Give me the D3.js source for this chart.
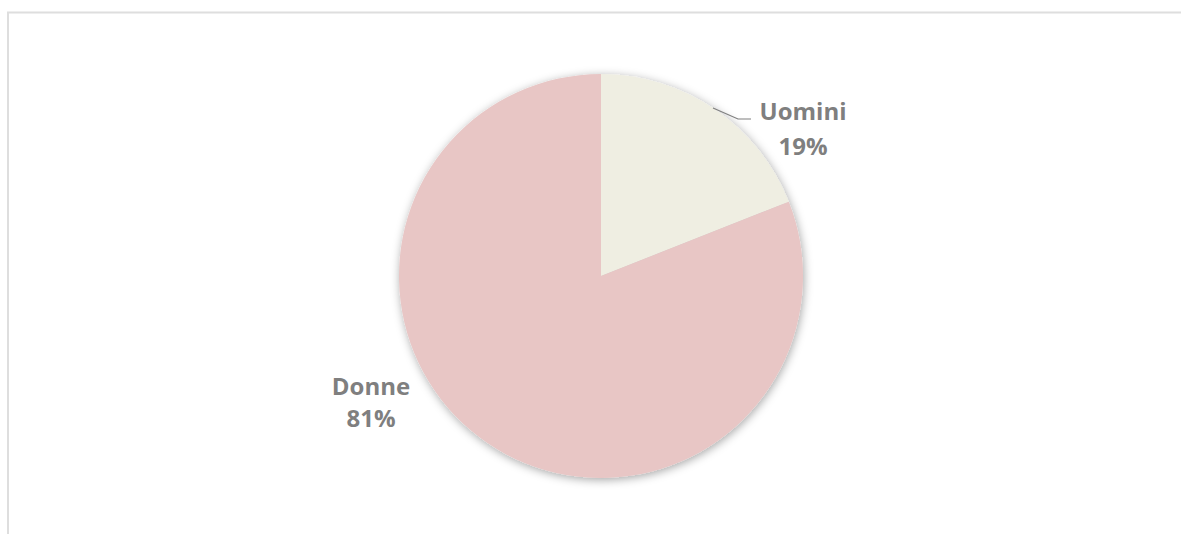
<!DOCTYPE html>
<html>
<head>
<meta charset="utf-8">
<script src="https://cdn.jsdelivr.net/npm/d3@7"></script>
<style>
  body { margin: 0; background: #fff; }
  svg text { font-family: "Open Sans", "Noto Sans", sans-serif; font-weight: 700; fill: #7f7f7f; }
</style>
</head>
<body>
<div id="chart"></div>
<script>
let categories = ['Uomini', 'Donne'];
let values = [19, 81];
let colors = ['#efeee2', '#e8c6c5'];

let svgWidth = 1181;
let svgHeight = 534;
let cx = 601, cy = 276, radius = 202;

let svg = d3.select('#chart')
  .append('svg')
  .attr('width', svgWidth)
  .attr('height', svgHeight);

// frame lines (top + left)
svg.append('line')
  .attr('x1', 7).attr('x2', svgWidth).attr('y1', 12.5).attr('y2', 12.5)
  .attr('stroke', '#dedede').attr('stroke-width', 2);
svg.append('line')
  .attr('x1', 8).attr('x2', 8).attr('y1', 12).attr('y2', svgHeight)
  .attr('stroke', '#dedede').attr('stroke-width', 2);

let defs = svg.append('defs');
let filter = defs.append('filter').attr('id', 'shadow')
  .attr('x', '-20%').attr('y', '-20%').attr('width', '140%').attr('height', '140%');
filter.append('feDropShadow')
  .attr('dx', 1).attr('dy', 2)
  .attr('stdDeviation', 5)
  .attr('flood-color', '#000')
  .attr('flood-opacity', 0.35);

let data = categories.map((c, i) => ({ name: c, value: values[i], color: colors[i] }));

let pie = d3.pie().sort(null).value(d => d.value);
let arc = d3.arc().innerRadius(0).outerRadius(radius);

let chartGroup = svg.append('g')
  .attr('transform', `translate(${cx}, ${cy})`);

let arcs = pie(data);

chartGroup.append('g')
  .attr('filter', 'url(#shadow)')
  .selectAll('path')
  .data(arcs)
  .enter()
  .append('path')
  .attr('d', arc)
  .attr('fill', d => d.data.color);

// leader line for Uomini
chartGroup.append('polyline')
  .attr('points', [[112, -168], [137, -157], [150, -157]].map(p => p.join(',')).join(' '))
  .attr('fill', 'none')
  .attr('stroke', '#7f7f7f')
  .attr('stroke-width', 1.2);

let labelPos = [
  { x: 202, y: -156, gap: 35 },
  { x: -230, y: 119, gap: 32 }
];

arcs.forEach((d, i) => {
  let t = chartGroup.append('text')
    .attr('text-anchor', 'middle')
    .attr('font-size', 24);
  t.append('tspan')
    .attr('x', labelPos[i].x).attr('y', labelPos[i].y)
    .text(d.data.name);
  t.append('tspan')
    .attr('x', labelPos[i].x).attr('y', labelPos[i].y + labelPos[i].gap)
    .text(d3.format('.0f')(d.data.value) + '%');
});
</script>
</body>
</html>
